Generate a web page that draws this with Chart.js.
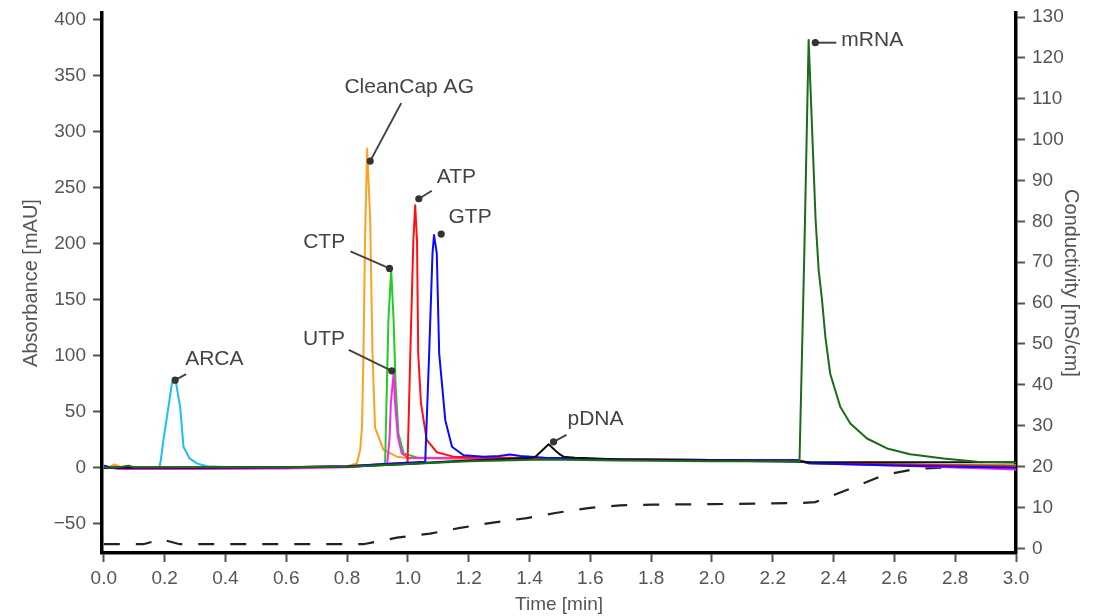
<!DOCTYPE html>
<html><head><meta charset="utf-8">
<script src="https://cdn.jsdelivr.net/npm/chart.js@4/dist/chart.umd.min.js"></script>
<style>html,body{margin:0;padding:0;background:#fff;}#wrap{width:1102px;height:616px;}</style>
</head><body><div id="wrap"><canvas id="c" width="1102" height="616"></canvas></div>
<script>
// ---- data (time in min, absorbance in mAU, conductivity in mS/cm) ----
const arcaT = [0, 0.05, 0.1, 0.15, 0.183, 0.1875, 0.196, 0.2125, 0.2236, 0.229, 0.238, 0.251, 0.262, 0.282, 0.306, 0.339, 0.4, 0.6, 0.8, 1.0, 1.2, 1.45, 1.7, 2.0, 2.28, 2.32, 2.6, 3.0];
const arcaY = [1, 0.5, 0.3, 0.3, 1, 7, 24.7, 54.5, 75, 79, 75, 54.5, 18.8, 8.4, 4, 1.5, 0.8, 0.7, 1, 4, 6.5, 8.5, 7.5, 7, 6.8, 4.5, 3, 1.5];

const cleanCapT = [0, 0.02, 0.035, 0.045, 0.06, 0.1, 0.3, 0.6, 0.8, 0.832, 0.843, 0.849, 0.854, 0.859, 0.866, 0.876, 0.8836, 0.892, 0.92, 0.964, 1.0, 1.2, 1.45, 1.7, 2.0, 2.28, 2.32, 2.6, 3.0];
const cleanCapY = [0.5, 1, 3, 2, 0.5, 0.5, 0.5, 0.8, 1.5, 4, 16, 36, 102, 203, 285, 221, 102, 36, 16, 10, 8.5, 8, 8.6, 7.5, 7, 6.5, 4, 3, 2];

const ctpT = [0, 0.1, 0.3, 0.6, 0.8, 0.9, 0.925, 0.936, 0.945, 0.953, 0.96, 0.969, 0.986, 1.03, 1.2, 1.45, 1.7, 2.0, 2.28, 2.32, 2.6, 3.0];
const ctpY = [0, 0, 0, 0.5, 1.5, 3, 4, 132, 176.5, 132, 72, 30.7, 12.9, 9.3, 9, 8.5, 7.5, 7, 6.8, 4.5, 3, 2];

const utpT = [0, 0.02, 0.05, 0.3, 0.6, 0.8, 0.9, 0.932, 0.94, 0.944, 0.953, 0.958, 0.967, 0.98, 1.0, 1.2, 1.45, 1.7, 2.0, 2.28, 2.32, 2.6, 3.0];
const utpY = [0, 0, -1, -1, -0.5, 0.5, 2.5, 3.5, 27.7, 57.5, 84, 57.5, 27.7, 12.9, 9, 8.5, 8.5, 7.5, 7, 6.8, 4, 2, -1.5];

const atpT = [0, 0.1, 0.3, 0.6, 0.8, 0.9, 0.99, 0.999, 1.008, 1.018, 1.024, 1.03, 1.034, 1.043, 1.062, 1.095, 1.149, 1.2, 1.45, 1.7, 2.0, 2.28, 2.32, 2.6, 3.0];
const atpY = [0, 0, 0, 0.5, 1.5, 3, 4.5, 5, 102, 203, 234.5, 203, 102, 57.8, 25, 14, 10, 9.5, 8.5, 7.5, 7, 6.8, 4.5, 3, 1.5];

const gtpT = [0, 0.01, 0.02, 0.05, 0.3, 0.6, 0.8, 0.9, 1.0, 1.057, 1.07, 1.081, 1.086, 1.095, 1.103, 1.123, 1.145, 1.183, 1.25, 1.3, 1.336, 1.37, 1.45, 1.7, 2.0, 2.28, 2.32, 2.6, 3.0];
const gtpY = [2, 1.5, 0, 0, 0, 0.5, 1.5, 3, 4.5, 5.5, 102, 191.7, 207.8, 191.7, 102, 42.6, 18.8, 11.3, 10, 10.5, 12, 10.5, 9, 7.5, 7, 6.8, 4, 2, 0];

const pdnaT = [0, 0.05, 0.1, 0.3, 0.6, 0.8, 1.0, 1.2, 1.41, 1.422, 1.443, 1.463, 1.483, 1.5, 1.512, 1.55, 1.7, 2.0, 2.28, 2.32, 2.6, 3.0];
const pdnaY = [0, 0, 0, 0, 0.5, 1, 3.5, 6.5, 9, 10.5, 16, 21, 16, 12, 10, 9, 7.5, 6.5, 5.5, 5.2, 5, 5];

const mrnaT = [0, 0.03, 0.06, 0.08, 0.1, 0.15, 0.3, 0.6, 0.8, 1.0, 1.2, 1.45, 1.7, 2.0, 2.2, 2.288, 2.304, 2.318, 2.341, 2.351, 2.362, 2.373, 2.389, 2.422, 2.455, 2.51, 2.576, 2.652, 2.762, 2.872, 3.0];
const mrnaY = [0.5, 0, 1, 2, 0.5, 0.5, 0.5, 0.5, 1, 3.5, 6, 7.5, 6.5, 6, 5.8, 6, 194, 382, 221, 176.5, 150, 117, 84, 54.5, 39.6, 26.2, 17.3, 12.2, 8.4, 5.4, 4.8];

const condT = [0, 0.13, 0.16, 0.185, 0.21, 0.25, 0.3, 0.6, 0.854, 0.964, 1.073, 1.172, 1.28, 1.391, 1.49, 1.6, 1.698, 1.808, 2.0, 2.2, 2.29, 2.34, 2.39, 2.455, 2.565, 2.674, 2.893, 3.0];
const condY = [1, 1, 1.6, 2.3, 1.8, 1, 1, 1, 1, 2.6, 3.6, 5, 6.3, 7.4, 8.7, 9.9, 10.5, 10.7, 10.8, 11, 11.1, 11.3, 12.7, 14.6, 17.9, 19.5, 20.1, 20.3];

const xTickValues = [0, 0.2, 0.4, 0.6, 0.8, 1.0, 1.2, 1.4, 1.6, 1.8, 2.0, 2.2, 2.4, 2.6, 2.8, 3.0];
const absTickValues = [-50, 0, 50, 100, 150, 200, 250, 300, 350, 400];
const condTickValues = [0, 10, 20, 30, 40, 50, 60, 70, 80, 90, 100, 110, 120, 130];

const peakLabels = ['ARCA', 'CleanCap AG', 'ATP', 'GTP', 'CTP', 'UTP', 'pDNA', 'mRNA'];
const peakLabelT = [0.2345, 0.876, 1.036, 1.1095, 0.9395, 0.947, 1.479, 2.34];
const peakLabelV = [78.3, 273.8, 240.2, 208.7, 178, 86.6, 23.2, 379.5];

// ---- presentation ----
const labelStyle = {
  'ARCA':        {line: [11, -6],  text: [10, -15],    align: 'left'},
  'CleanCap AG': {line: [31, -58], text: [39, -67.7],  align: 'center'},
  'ATP':         {line: [13, -8],  text: [18, -15.4],  align: 'left'},
  'GTP':         {line: null,      text: [7.3, -10.7], align: 'left'},
  'CTP':         {line: [-39, -17],text: [-44.3, -20.3], align: 'right'},
  'UTP':         {line: [-43, -21],text: [-46.7, -25.7], align: 'right'},
  'pDNA':        {line: [13, -7],  text: [14, -16.7],  align: 'left'},
  'mRNA':        {line: [21, 0],   text: [26, 3.3],    align: 'left'}
};
const FONT = '"Liberation Sans", Arial, Helvetica, sans-serif';
Chart.defaults.font.family = FONT;

function pts(t, y) { return t.map((v, i) => ({x: v, y: y[i]})); }
function ser(label, t, y, color, axis) {
  return {label, data: pts(t, y), borderColor: color, borderWidth: 2, pointRadius: 0,
          tension: 0, fill: false, borderJoinStyle: 'round', yAxisID: axis || 'y'};
}

const datasets = [
  ser('mRNA', mrnaT, mrnaY, '#1b6b1b'),
  ser('pDNA', pdnaT, pdnaY, '#111111'),
  ser('GTP', gtpT, gtpY, '#0a0aff'),
  ser('ATP', atpT, atpY, '#ff1010'),
  ser('UTP', utpT, utpY, '#ff22ee'),
  ser('CTP', ctpT, ctpY, '#22cc22'),
  ser('CleanCap AG', cleanCapT, cleanCapY, '#ffa020'),
  ser('ARCA', arcaT, arcaY, '#1ebdf5'),
  Object.assign(ser('Conductivity', condT, condY, '#222222', 'y2'), {borderDash: [16, 16], borderWidth: 2.2, borderJoinStyle: 'miter'})
];

const annPlugin = {
  id: 'peakAnn',
  afterDatasetsDraw(chart) {
    const {ctx} = chart; const xs = chart.scales.x, ys = chart.scales.y;
    ctx.save();
    peakLabels.forEach((name, i) => {
      const st = labelStyle[name];
      const px = xs.getPixelForValue(peakLabelT[i]), py = ys.getPixelForValue(peakLabelV[i]);
      if (st.line) {
        ctx.beginPath(); ctx.moveTo(px, py); ctx.lineTo(px + st.line[0], py + st.line[1]);
        ctx.strokeStyle = '#444'; ctx.lineWidth = 2; ctx.stroke();
      }
      ctx.beginPath(); ctx.arc(px, py, 3.6, 0, Math.PI * 2); ctx.fillStyle = '#333'; ctx.fill();
      ctx.font = '21px ' + FONT; ctx.fillStyle = '#444'; ctx.textAlign = st.align; ctx.textBaseline = 'alphabetic';
      ctx.fillText(name, px + st.text[0], py + st.text[1]);
    });
    ctx.restore();
  }
};

const tickFont = {size: 19};
const gridOpts = {drawOnChartArea: false, drawTicks: true, tickLength: 9, tickColor: '#555', tickWidth: 2};
const borderOpts = {display: true, color: '#000', width: 3.5};
function fitY(w) { return s => { s.width = w; s.paddingTop = 0; s.paddingBottom = 0; }; }

new Chart(document.getElementById('c'), {
  type: 'line',
  data: {datasets},
  plugins: [annPlugin],
  options: {
    responsive: false, animation: false, devicePixelRatio: 1,
    layout: {padding: {top: 13, left: 0, right: 0, bottom: 0}},
    plugins: {legend: {display: false}, tooltip: {enabled: false}},
    scales: {
      x: {type: 'linear', position: 'bottom', min: -0.006, max: 3.0,
          afterBuildTicks: s => { s.ticks = xTickValues.map(v => ({value: v})); },
          afterFit: s => { s.height = 63; s.paddingLeft = 0; s.paddingRight = 0; },
          ticks: {font: tickFont, color: '#555', padding: 5, maxRotation: 0, autoSkip: false,
                  callback: v => Number(v).toFixed(1)},
          grid: gridOpts, border: borderOpts,
          title: {display: true, text: 'Time [min]', color: '#555', font: {size: 19}, padding: {top: 0, bottom: 0}}},
      y: {type: 'linear', position: 'left', min: -76, max: 406,
          afterBuildTicks: s => { s.ticks = absTickValues.map(v => ({value: v})); },
          afterFit: fitY(102),
          ticks: {font: tickFont, color: '#555', padding: 7, autoSkip: false,
                  callback: v => (v < 0 ? '\u2212' + Math.abs(v) : String(v))},
          grid: gridOpts, border: borderOpts,
          title: {display: true, text: 'Absorbance [mAU]', color: '#555', font: {size: 20}, padding: {top: 19, bottom: 0}}},
      y2: {type: 'linear', position: 'right', min: -1.15, max: 131,
          afterBuildTicks: s => { s.ticks = condTickValues.map(v => ({value: v})); },
          afterFit: fitY(86),
          ticks: {font: tickFont, color: '#555', padding: 7, autoSkip: false},
          grid: gridOpts, border: borderOpts,
          title: {display: true, text: 'Conductivity [mS/cm]', color: '#555', font: {size: 20}, padding: {top: 19, bottom: 0}}}
    }
  }
});
</script></body></html>
